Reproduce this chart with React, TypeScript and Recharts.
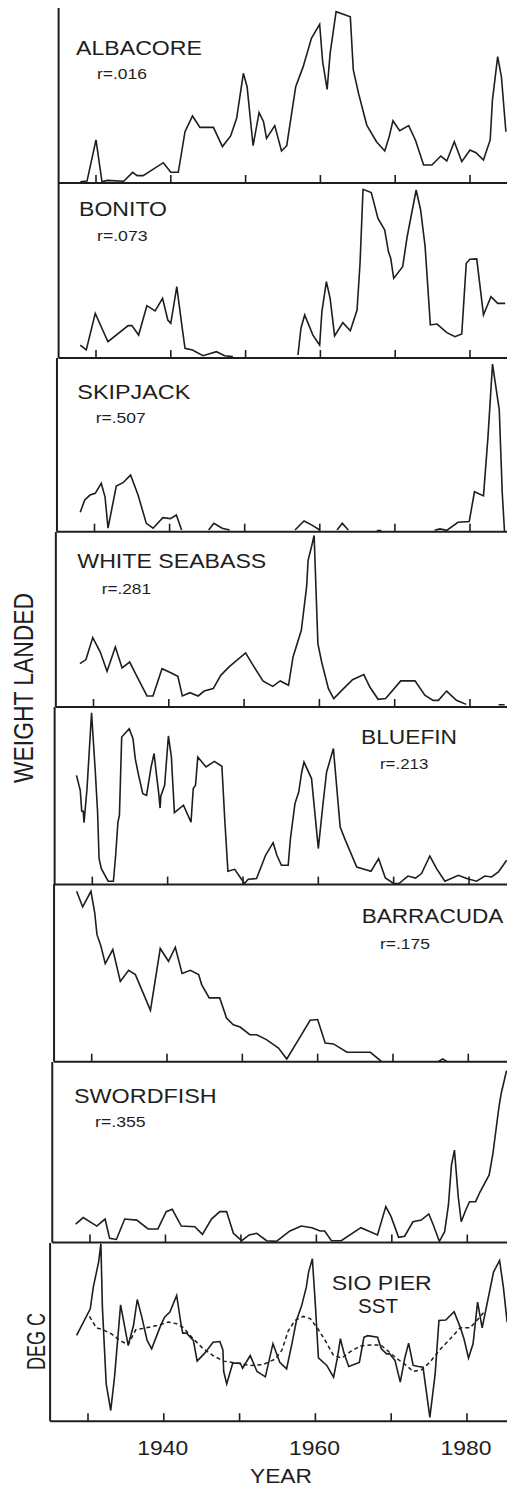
import React from 'react';
import { LineChart, Line, XAxis, YAxis } from 'recharts';

type Pt = [number, number | null];

const tickYears = [1930, 1940, 1950, 1960, 1970, 1980];
const labeledYears = [1940, 1960, 1980];

const albacore: Pt[] = [
  [1927.9, 0.7], [1928.8, 1.1], [1930.0, 24.6], [1930.8, 0.7], [1931.5, 1.5], [1933.7, 1], [1934.9, 6.1],
  [1935.5, 4.2], [1936.3, 4.2], [1939.0, 11.6], [1940.0, 6.1], [1941.0, 6.1], [1941.9, 29.3], [1942.9, 38.3],
  [1943.9, 31.8], [1945.7, 31.8], [1946.9, 20.8], [1948.0, 26.9], [1948.8, 37.0], [1949.7, 62.7], [1950.2, 55.0],
  [1951.0, 21.3], [1951.8, 40.2], [1952.4, 35.0], [1952.8, 25.5], [1953.9, 32.8], [1954.8, 18.3], [1955.5, 21.3],
  [1956.7, 55.0], [1957.7, 66.5], [1958.8, 82.7], [1959.9, 90.7], [1960.3, 69.3], [1960.9, 53.5], [1961.3, 74.1],
  [1962.1, 97.9], [1964.0, 95.0], [1964.4, 64.6], [1965.1, 51.2], [1966.2, 33.1], [1967.5, 23.6], [1968.6, 18.3],
  [1969.2, 26.5], [1969.7, 35.6], [1970.6, 29.9], [1971.8, 32.8], [1972.7, 24.6], [1973.8, 10.3], [1974.9, 10.3],
  [1976.1, 15.4], [1976.9, 12.6], [1977.9, 23.6], [1978.9, 12.2], [1980.0, 18.9], [1980.8, 17.3], [1981.8, 13.1],
  [1982.7, 24.6], [1983.0, 47.4], [1983.7, 72.2], [1984.2, 60.7], [1984.8, 29.3],
];

const bonito: Pt[] = [
  [1927.9, 7.4], [1928.7, 4.6], [1929.9, 25.5], [1931.6, 9.3], [1934.3, 18.5], [1934.8, 18.5], [1935.7, 13.1],
  [1936.8, 29.9], [1937.9, 26.9], [1938.9, 34.1], [1939.6, 21.7], [1940.0, 19.8], [1940.8, 40.8], [1941.5, 17.9],
  [1941.9, 5.5], [1942.9, 4.6], [1944.3, 1.3], [1946.1, 3.6], [1947.2, 1.3], [1948.3, 0.8], [1952.0, null],
  [1957.0, 1.7], [1957.4, 17.0], [1957.9, 24.6], [1959.0, 13.1], [1959.9, 7.4], [1960.2, 26.5], [1960.8, 43.6],
  [1961.3, 34.1], [1961.9, 12.6], [1963.0, 20.2], [1964.0, 15.6], [1964.9, 27.4], [1965.3, 54.1], [1965.7, 96.4],
  [1966.8, 94.5], [1967.7, 79.8], [1968.6, 73.1], [1969.1, 60.7], [1969.4, 57.0], [1969.8, 45.5], [1971.0, 52.2],
  [1971.6, 69.3], [1972.8, 96.0], [1973.4, 84.6], [1974.0, 63.6], [1974.7, 18.9], [1975.6, 19.4], [1976.9, 14.5],
  [1978.0, 12.2], [1978.9, 13.7], [1979.5, 54.1], [1980.0, 56.4], [1980.9, 56.6], [1981.4, 38.9], [1981.8, 24.6],
  [1982.8, 35.0], [1983.7, 31.2], [1984.7, 31.2],
];

const skipjack: Pt[] = [
  [1928.1, 11.2], [1928.7, 18.3], [1929.4, 21.1], [1930.1, 22.1], [1930.9, 27.9], [1931.4, 20.1], [1931.8, 2.0],
  [1932.9, 26.3], [1933.8, 28.2], [1934.8, 32.6], [1935.8, 21.1], [1936.9, 4.8], [1937.8, 2.0], [1939.1, 8.1],
  [1940.1, 7.5], [1940.9, 9.6], [1941.6, 1.0], [1943.0, null], [1945.2, 1], [1945.9, 4.8], [1947.0, 2],
  [1948.0, 1], [1952.0, null], [1956.7, 1], [1957.9, 6.2], [1958.9, 3.9], [1960.0, 1], [1961.0, null],
  [1962.3, 1], [1963.0, 4.8], [1963.8, 1], [1965.0, null], [1967.6, 0.6], [1968.2, 0.6], [1970.0, null],
  [1975.3, 0.8], [1976.0, 1.6], [1976.9, 0.8], [1978.4, 5.4], [1979.9, 5.9], [1980.6, 23.0], [1981.8, 20.6],
  [1982.4, 54.7], [1983.0, 96.5], [1983.9, 70.1], [1984.3, 22.1], [1984.6, 0],
];

const whiteSeabass: Pt[] = [
  [1928.2, 24.8], [1929.0, 27.1], [1929.9, 39.7], [1930.9, 31.4], [1931.8, 20.4], [1932.9, 34.3], [1933.8, 22.3],
  [1934.8, 25.7], [1935.7, 18.1], [1937.1, 6.3], [1937.9, 6.3], [1939.1, 21.9], [1940.2, 19.7], [1941.2, 17.5],
  [1941.8, 6.3], [1942.8, 8.2], [1943.9, 6.3], [1944.7, 9.1], [1945.9, 10.5], [1946.9, 18.1], [1948.0, 22.9],
  [1950.2, 30.9], [1951.2, 23.8], [1952.5, 14.9], [1953.8, 11.8], [1954.8, 14.9], [1955.9, 12.4], [1956.5, 28.6],
  [1957.6, 43.8], [1958.3, 68.6], [1958.5, 83.8], [1959.0, 92.4], [1959.3, 98], [1959.8, 36.2], [1960.3, 25.7],
  [1961.2, 10.5], [1961.9, 4.8], [1963.2, 10.5], [1964.4, 15.6], [1965.9, 18.5], [1966.7, 11.4], [1967.8, 4.4],
  [1968.8, 4.8], [1970.8, 14.9], [1972.7, 14.9], [1974.0, 6.7], [1975.1, 3.8], [1975.8, 3.8], [1976.9, 9.1],
  [1978.2, 3.8], [1979.5, 1.5], [1981.0, null], [1983.8, 1.3], [1984.6, 1.3],
];

const bluefin: Pt[] = [
  [1927.9, 61.5], [1928.4, 53.1], [1928.6, 41.3], [1928.8, 41.3], [1928.9, 34.9], [1929.3, 54.1], [1929.9, 96.8],
  [1930.4, 63.4], [1930.7, 40.9], [1930.9, 14.6], [1931.2, 9.0], [1932.1, 1.9], [1932.8, 1.9], [1933.1, 16.5],
  [1933.4, 35.2], [1933.6, 39.0], [1933.9, 83.1], [1934.9, 87.8], [1935.4, 82.2], [1935.7, 70.9], [1936.1, 62.5],
  [1936.7, 51.2], [1937.2, 50.3], [1937.8, 66.2], [1938.2, 73.8], [1938.5, 62.5], [1938.8, 52.1], [1939.0, 43.1],
  [1939.1, 49.9], [1939.6, 55.9], [1940.1, 83.7], [1940.5, 71.8], [1940.6, 63.4], [1940.9, 40.5], [1942.1, 44.7],
  [1943.1, 35.2], [1943.4, 54.1], [1943.7, 55.9], [1944.0, 71.8], [1945.1, 66.2], [1946.2, 69.4], [1947.2, 66.6],
  [1947.6, 35.2], [1948.0, 7.5], [1948.9, 8.6], [1949.6, 4.3], [1950.2, 0.6], [1950.7, 3.0], [1951.8, 3.4],
  [1953.0, 16.5], [1954.0, 23.6], [1954.5, 16.5], [1955.1, 10.9], [1956.0, 10.9], [1956.3, 25.9], [1956.9, 45.6],
  [1957.4, 52.1], [1957.8, 63.4], [1958.1, 69.0], [1959.1, 59.7], [1960.0, 20.3], [1960.6, 44.7], [1961.1, 63.4],
  [1962.0, 76.6], [1962.9, 32.4], [1963.6, 24.9], [1965.1, 9.9], [1967.0, 7.5], [1968.0, 14.6], [1968.9, 3.7],
  [1970.0, 0.6], [1970.7, 0.6], [1971.9, 4.8], [1972.9, 3.7], [1973.7, 6.2], [1974.8, 16.1], [1975.7, 9.0],
  [1976.8, 1.9], [1978.6, 5.2], [1979.7, 3.4], [1981.0, 1.9], [1982.1, 4.8], [1983.0, 4.3], [1983.9, 7.1],
  [1985.0, 13.7],
];

const barracuda: Pt[] = [
  [1928.0, 95.9], [1928.8, 87.1], [1929.9, 95.9], [1930.4, 83.8], [1930.7, 71.5], [1931.2, 65.4], [1931.8, 55.2],
  [1932.8, 63.1], [1933.8, 45.2], [1934.9, 51.4], [1935.8, 49.0], [1937.8, 28.9], [1939.1, 63.7], [1940.2, 56.5],
  [1941.1, 64.4], [1942.0, 49.6], [1943.1, 51.4], [1944.2, 49.0], [1944.6, 43.4], [1945.6, 35.9], [1947.0, 35.9],
  [1947.9, 24.6], [1948.8, 20.8], [1949.7, 19.5], [1951.0, 15.2], [1951.9, 15.2], [1953.2, 12.4], [1954.8, 7.7],
  [1955.9, 1.5], [1957.6, 13.4], [1959.0, 23.3], [1960.0, 23.7], [1961.0, 10.5], [1962.1, 10.0], [1963.9, 5.3],
  [1967.0, 5.3], [1968.5, 0], [1972.0, null], [1976.0, 0], [1976.6, 1.6], [1977.2, 0],
];

const swordfish: Pt[] = [
  [1928.1, 10.2], [1929.1, 13.8], [1930.9, 9.1], [1932.0, 13.0], [1932.6, 2.3], [1933.5, 1.7], [1934.6, 13.0],
  [1936.2, 12.4], [1937.7, 7.5], [1939.0, 7.5], [1940.1, 17.1], [1940.9, 18.4], [1942.1, 9.1], [1943.9, 8.7],
  [1944.9, 4.5], [1946.1, 13.0], [1947.2, 17.1], [1948.1, 17.1], [1949.0, 5.1], [1950.1, 1.0], [1951.1, 4.2],
  [1952.1, 5.1], [1953.4, 1.0], [1954.7, 0.6], [1956.5, 6.4], [1958.0, 9.1], [1959.4, 8.2], [1960.5, 6.4],
  [1961.1, 6.4], [1962.0, 1.0], [1963.3, 1.0], [1965.9, 8.2], [1968.1, 4.2], [1969.2, 19.9], [1969.9, 14.3],
  [1970.9, 2.9], [1971.7, 3.5], [1972.8, 11.5], [1973.9, 12.4], [1974.9, 15.8], [1975.5, 9.7], [1976.3, 0.6],
  [1977.0, 6.0], [1977.5, 20.8], [1977.9, 42.9], [1978.3, 51.2], [1978.8, 25.4], [1979.2, 11.5], [1979.8, 18.0],
  [1980.3, 22.6], [1981.1, 22.6], [1981.7, 28.1], [1982.9, 37.4], [1983.4, 49.4], [1984.2, 75.2], [1984.5, 82.7],
  [1985.2, 95.2],
];

const sstAnnual: Pt[] = [
  [1928.5, 48.1], [1930.3, 63.1], [1930.7, 75.2], [1931.4, 89.3], [1931.7, 99.6], [1931.9, 64.0], [1932.4, 21.0],
  [1933.0, 6.0], [1933.5, 24.7], [1934.3, 65.3], [1935.3, 42.5], [1936.0, 53.7], [1936.5, 68.3], [1937.1, 58.4],
  [1937.8, 45.3], [1938.4, 40.6], [1939.5, 52.8], [1940.1, 58.4], [1940.8, 61.2], [1941.7, 70.6], [1942.3, 53.7],
  [1942.5, 49.4], [1943.0, 49.4], [1943.9, 45.3], [1944.4, 33.7], [1945.4, 38.2], [1946.5, 44.3], [1947.4, 44.7],
  [1947.8, 40.0], [1947.9, 27.9], [1948.3, 20.9], [1949.1, 32.6], [1950.1, 32.5], [1950.4, 29.7], [1951.4, 36.8],
  [1952.3, 27.9], [1953.4, 24.9], [1954.4, 43.5], [1955.3, 33.1], [1956.2, 29.4], [1956.9, 43.4], [1957.5, 56.5],
  [1958.2, 65.0], [1958.8, 75.2], [1959.1, 83.7], [1959.6, 91.2], [1960.0, 65.0], [1960.4, 35.5], [1961.5, 31.3],
  [1962.4, 24.7], [1962.9, 35.5], [1963.3, 46.3], [1963.8, 37.8], [1964.4, 30.7], [1965.8, 33.0], [1966.4, 47.1],
  [1966.9, 48.0], [1968.2, 47.1], [1968.7, 40.6], [1969.4, 37.8], [1969.8, 37.8], [1970.5, 34.1], [1971.2, 21.9],
  [1971.8, 35.5], [1972.3, 43.8], [1972.9, 31.3], [1973.6, 30.7], [1974.2, 30.3], [1975.1, 2.2], [1975.8, 26.6],
  [1976.3, 56.5], [1977.2, 56.8], [1978.3, 61.5], [1979.1, 52.8], [1979.6, 46.3], [1980.2, 35.5], [1980.8, 43.4],
  [1981.4, 66.8], [1982.0, 52.4], [1983.5, 83.7], [1984.3, 90.2], [1984.8, 75.2], [1985.3, 55.5],
];

const sstSmoothed: Pt[] = [
  [1930.2, 58.8], [1931.1, 52.4], [1932.0, 51.3], [1933.1, 49.0], [1934.2, 45.3], [1935.3, 43.0], [1936.3, 51.3],
  [1937.7, 52.4], [1939.1, 53.7], [1940.6, 55.6], [1941.7, 54.7], [1942.6, 52.4], [1943.7, 47.1], [1945.2, 40.6],
  [1946.5, 36.8], [1947.9, 33.7], [1949.6, 32.6], [1951.4, 31.3], [1953.1, 31.8], [1954.7, 34.9], [1955.6, 40.0],
  [1956.4, 50.5], [1957.3, 56.5], [1958.4, 58.8], [1959.3, 57.6], [1960.3, 52.0], [1961.3, 45.3], [1962.4, 36.8],
  [1963.5, 35.5], [1964.6, 39.0], [1965.9, 42.2], [1967.3, 42.8], [1968.6, 42.8], [1969.4, 40.0], [1970.7, 35.3],
  [1972.0, 31.3], [1972.9, 27.9], [1974.0, 28.8], [1975.1, 33.1], [1976.4, 40.0], [1977.8, 46.3], [1979.1, 52.4],
  [1980.4, 52.4], [1981.3, 56.5], [1982.4, 62.0],
];

type SeriesDef = { pts: Pt[]; dashed?: boolean };
type PanelDef = { top: number; bottom: number; t1930: number; t1980: number; series: SeriesDef[]; last?: boolean };

const panels: PanelDef[] = [
  { top: 8, bottom: 183, t1930: 96, t1980: 470, series: [{ pts: albacore }] },
  { top: 183, bottom: 358, t1930: 96, t1980: 470, series: [{ pts: bonito }] },
  { top: 358, bottom: 531.7, t1930: 94.5, t1980: 470, series: [{ pts: skipjack }] },
  { top: 531.7, bottom: 706.7, t1930: 93.5, t1980: 470, series: [{ pts: whiteSeabass }] },
  { top: 706.7, bottom: 884.3, t1930: 92.3, t1980: 469, series: [{ pts: bluefin }] },
  { top: 884.3, bottom: 1062, t1930: 91.7, t1980: 468.3, series: [{ pts: barracuda }] },
  { top: 1062, bottom: 1242.5, t1930: 90, t1980: 467.3, series: [{ pts: swordfish }] },
  { top: 1242.5, bottom: 1420.7, t1930: 88, t1980: 467, series: [{ pts: sstAnnual }, { pts: sstSmoothed, dashed: true }], last: true },
];

const textLabels = [
  { text: 'ALBACORE', x: 76, y: 55, w: 126, fs: 20 },
  { text: 'r=.016', x: 97, y: 79, w: 50, fs: 15.5 },
  { text: 'BONITO', x: 79, y: 215.5, w: 88, fs: 20 },
  { text: 'r=.073', x: 97, y: 241, w: 50.6, fs: 15.5 },
  { text: 'SKIPJACK', x: 77.3, y: 399, w: 113, fs: 20 },
  { text: 'r=.507', x: 95.7, y: 422.7, w: 50, fs: 15.5 },
  { text: 'WHITE SEABASS', x: 77.3, y: 568.3, w: 189, fs: 20 },
  { text: 'r=.281', x: 101.7, y: 594.3, w: 49.3, fs: 15.5 },
  { text: 'BLUEFIN', x: 361, y: 744.3, w: 96, fs: 20 },
  { text: 'r=.213', x: 380, y: 769, w: 48.3, fs: 15.5 },
  { text: 'BARRACUDA', x: 361.7, y: 922.7, w: 141.6, fs: 20 },
  { text: 'r=.175', x: 380, y: 949, w: 50, fs: 15.5 },
  { text: 'SWORDFISH', x: 74, y: 1103.3, w: 142.7, fs: 20 },
  { text: 'r=.355', x: 95, y: 1127.3, w: 50.7, fs: 15.5 },
  { text: 'SIO PIER', x: 331.7, y: 1290, w: 100, fs: 21 },
  { text: 'SST', x: 358, y: 1313, w: 40, fs: 21 },
  { text: 'YEAR', x: 250, y: 1483, w: 62, fs: 21 },
];

const INK = '#1e1e1e';
const FONT = '"Liberation Sans", Arial, Helvetica, sans-serif';
const PAD = 4;
const DOMAIN_END = 1986;

const toRows = (pts: Pt[]) => pts.map(([year, v]) => ({ year, v }));

function Panel({ p }: { p: PanelDef }) {
  const ppy = (p.t1980 - p.t1930) / 50;
  const left = p.t1930 - 5 * ppy;
  const plotW = (DOMAIN_END - 1925) * ppy;
  const extraBottom = p.last ? 1488 - p.bottom : PAD;
  const chartTop = p.top - PAD;
  const plotH = p.bottom - p.top;
  const height = plotH + PAD + extraBottom;
  const width = left + plotW + 2;
  const labelY = 1454.3 - chartTop;

  const renderTick = (props: any) => {
    const { x, payload } = props;
    if (!p.last || !labeledYears.includes(payload.value)) return <g />;
    return (
      <text x={x - 1} y={labelY} textAnchor="middle" fontSize={20} fontFamily={FONT} fill={INK}
        textLength={51} lengthAdjust="spacingAndGlyphs">
        {payload.value}
      </text>
    );
  };

  return (
    <div style={{ position: 'absolute', left: 0, top: chartTop }}>
      <LineChart width={width} height={height} margin={{ top: PAD, right: 2, bottom: extraBottom, left: left - 1 }}
        data={toRows(p.series[0].pts)}>
        <XAxis type="number" dataKey="year" domain={[1925, DOMAIN_END]} ticks={tickYears} interval={0}
          mirror height={1} tickSize={8} tick={renderTick}
          axisLine={{ stroke: INK, strokeWidth: 2 }} tickLine={{ stroke: INK, strokeWidth: 1.6 }} />
        <YAxis type="number" domain={[0, 100]} width={1} tick={false} tickLine={false}
          axisLine={{ stroke: INK, strokeWidth: 2 }} />
        {p.series.map((s, i) => (
          <Line key={i} data={toRows(s.pts)} dataKey="v" type="linear" stroke={INK}
            strokeWidth={s.dashed ? 1.5 : 1.6} strokeDasharray={s.dashed ? '4 3' : undefined}
            dot={false} activeDot={false} connectNulls={false} isAnimationActive={false} />
        ))}
      </LineChart>
    </div>
  );
}

export default function App() {
  return (
    <div style={{ position: 'absolute', left: 0, top: 0, width: 507, height: 1488, overflow: 'hidden', background: '#fff' }}>
      {panels.map((p, i) => <Panel key={i} p={p} />)}
      <svg width={507} height={1488} style={{ position: 'absolute', left: 0, top: 0, pointerEvents: 'none' }}>
        {textLabels.map((t, i) => (
          <text key={i} x={t.x} y={t.y} fontSize={t.fs} fontFamily={FONT} fill={INK}
            textLength={t.w} lengthAdjust="spacingAndGlyphs">{t.text}</text>
        ))}
        <text transform="translate(33,688) rotate(-90)" textAnchor="middle" fontSize={27} fontFamily={FONT}
          fill={INK} textLength={190} lengthAdjust="spacingAndGlyphs">WEIGHT LANDED</text>
        <text transform="translate(45,1341.5) rotate(-90)" textAnchor="middle" fontSize={25} fontFamily={FONT}
          fill={INK} textLength={57} lengthAdjust="spacingAndGlyphs">DEG C</text>
      </svg>
    </div>
  );
}
